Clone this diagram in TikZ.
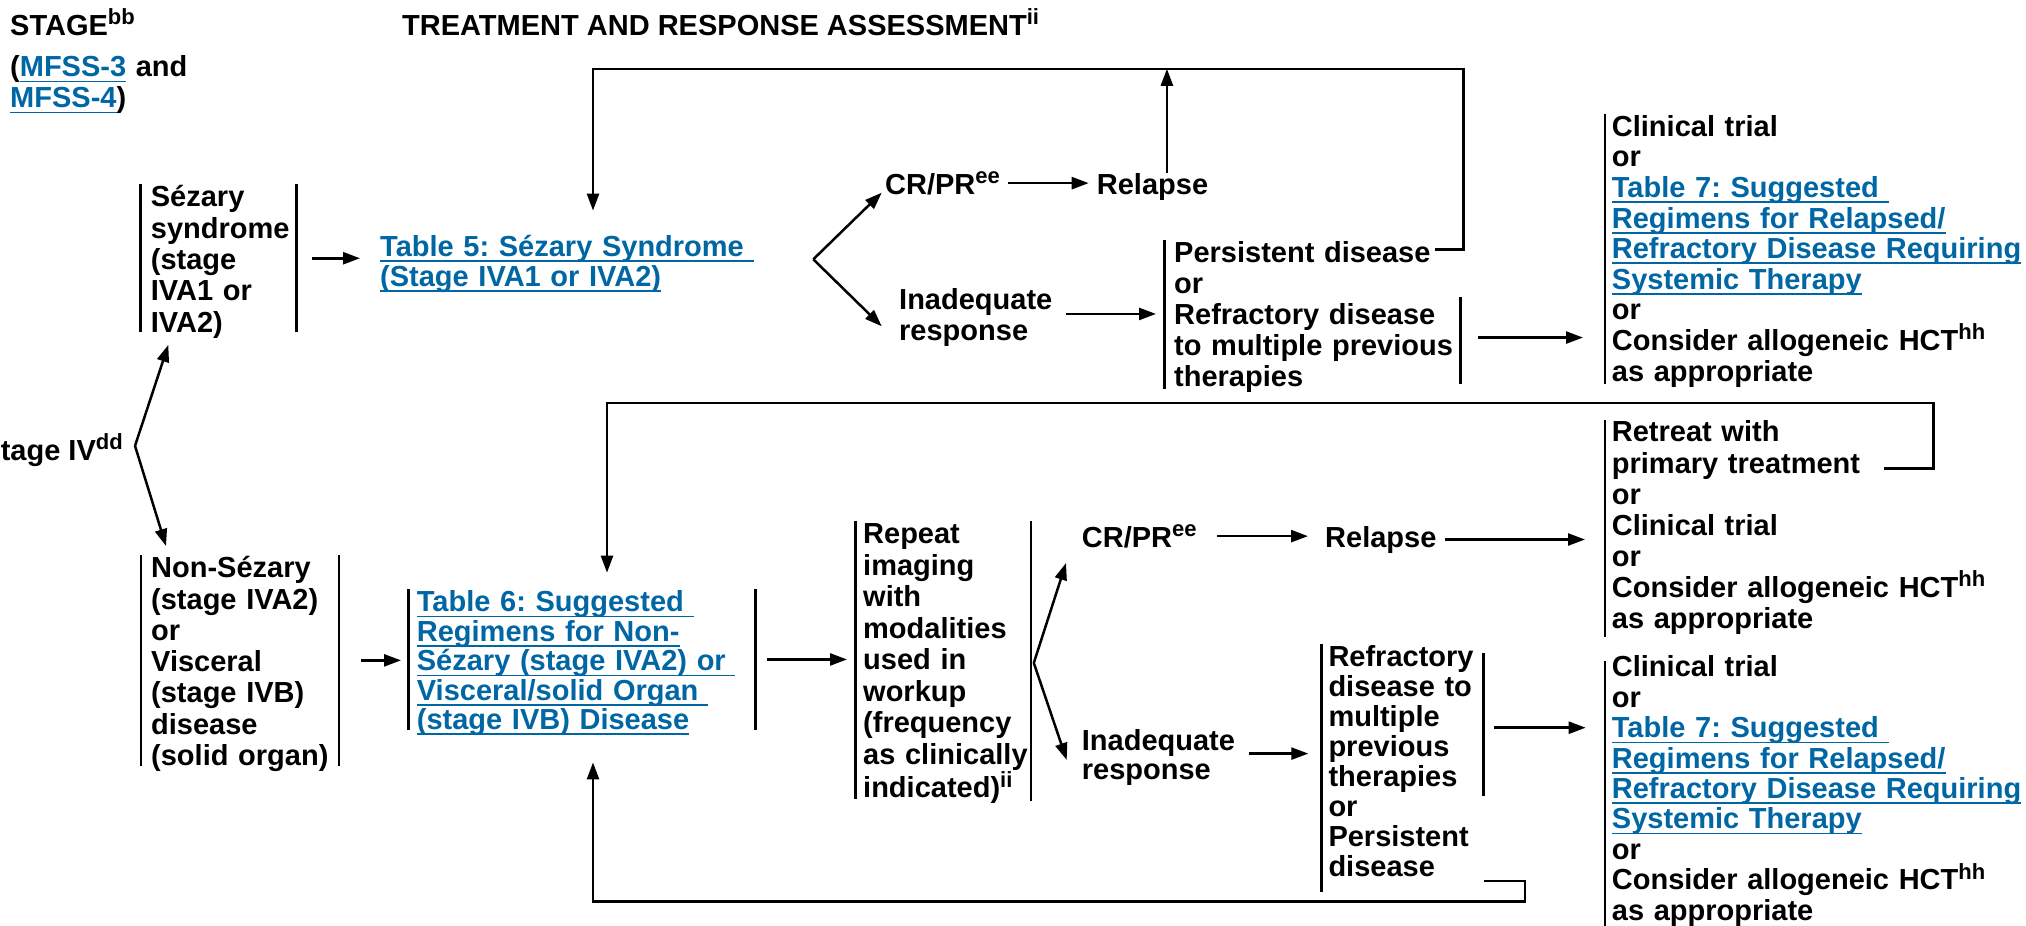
\documentclass[tikz,border=0pt]{standalone}
\usepackage{fontspec}
\setmainfont{Liberation Sans}
\usetikzlibrary{arrows.meta,calc}
\definecolor{linkblue}{RGB}{0,102,164}
\frenchspacing
\newcommand\sups[1]{\raisebox{10.5pt}{\fontsize{22}{22}\selectfont #1}}
\newcommand\mylink[1]{\leavevmode\setbox0=\hbox{#1}\rlap{\color{linkblue}\rule[-5.5pt]{\wd0}{1.7pt}}{\color{linkblue}\box0}}
\newcommand\topstrut{\rule{0pt}{22.5pt}}
\newcommand\lastln{\par\kern-\prevdepth}
\newcommand\lsp[1]{\fontsize{29}{#1}\selectfont}
\begin{document}
\frenchspacing
\begin{tikzpicture}[x=1pt,y=-1pt,
  every node/.style={inner sep=0pt, font=\bfseries\frenchspacing\lsp{31}},
  txt/.style={anchor=north west, align=left},
  bar/.style={line width=2.5pt},
  arr/.style={line width=2.5pt, -{Triangle[length=17pt,width=12pt]}}]
\useasboundingbox (0,0) rectangle (2026,926);

% header
\node[anchor=base west] (stage) at (10,35) {STAGE\sups{bb}};
\node[txt, text width=200pt] (mfss) at (10,54) {\topstrut(\mylink{MFSS-3} and\\\mylink{MFSS-4})\lastln};
\node[anchor=base west] (treat) at (402,35) {TREATMENT AND RESPONSE ASSESSMENT\sups{ii}};

% upper branch
\node[txt, text width=145.3pt, font=\bfseries\lsp{31.3}] (sez) at (150.7,184.2) {\topstrut Sézary\\syndrome\\(stage\\IVA1 or\\IVA2)\lastln};
\node[txt, text width=380pt, font=\bfseries\lsp{30}] (t5) at (380,233.5) {\topstrut\mylink{Table 5: Sézary Syndrome }\\\mylink{(Stage IVA1 or IVA2)}\lastln};
\node[anchor=base west] (crpr1) at (885,194) {CR/PR\sups{ee}};
\node[anchor=base west] (rel1) at (1096.7,194) {Relapse};
\node[txt, text width=153pt, font=\bfseries\lsp{31.4}] (inad1) at (899,286.8) {\topstrut Inadequate\\response\lastln};
\node[txt, text width=286pt] (pers1) at (1174,240.2) {\topstrut Persistent disease\\or\\Refractory disease\\to multiple previous\\therapies\lastln};
\node[txt, text width=430pt, font=\bfseries\lsp{30.6}] (clin1) at (1611.7,113.5) {\topstrut Clinical trial\\or\\\mylink{Table 7: Suggested }\\\mylink{Regimens for Relapsed/}\\\mylink{Refractory Disease Requiring}\\\mylink{Systemic Therapy}\\or\\Consider allogeneic HCT\sups{hh}\\as appropriate\lastln};

% lower branch
\node[anchor=base east] (st4) at (123,460) {Stage IV\sups{dd}};
\node[txt, text width=187.5pt, font=\bfseries\lsp{31.3}] (nons) at (151,555) {\topstrut Non-Sézary\\(stage IVA2)\\or\\Visceral\\(stage IVB)\\disease\\(solid organ)\lastln};
\node[txt, text width=338.3pt, font=\bfseries\lsp{29.4}] (t6) at (416.7,589.2) {\topstrut\mylink{Table 6: Suggested }\\\mylink{Regimens for Non-}\\\mylink{Sézary (stage IVA2) or }\\\mylink{Visceral/solid Organ }\\\mylink{(stage IVB) Disease}\lastln};
\node[txt, text width=167.4pt, font=\bfseries\lsp{31.5}] (rep) at (863,521) {\topstrut Repeat\\imaging\\with\\modalities\\used in\\workup\\(frequency\\as clinically\\indicated)\sups{ii}\lastln};
\node[anchor=base west] (crpr2) at (1081.7,547) {CR/PR\sups{ee}};
\node[anchor=base west] (rel2) at (1325,547) {Relapse};
\node[txt, text width=153pt, font=\bfseries\lsp{29.3}] (inad2) at (1081.7,727.5) {\topstrut Inadequate\\response\lastln};
\node[txt, text width=154.7pt, font=\bfseries\lsp{30}] (refr) at (1328.3,644.2) {\topstrut Refractory\\disease to\\multiple\\previous\\therapies\\or\\Persistent\\disease\lastln};
\node[txt, text width=430pt, font=\bfseries\lsp{31.1}] (clin3) at (1611.7,419.2) {\topstrut Retreat with\\primary treatment\\or\\Clinical trial\\or\\Consider allogeneic HCT\sups{hh}\\as appropriate\lastln};
\node[txt, text width=430pt, font=\bfseries\lsp{30.4}] (clin4) at (1611.7,654.2) {\topstrut Clinical trial\\or\\\mylink{Table 7: Suggested }\\\mylink{Regimens for Relapsed/}\\\mylink{Refractory Disease Requiring}\\\mylink{Systemic Therapy}\\or\\Consider allogeneic HCT\sups{hh}\\as appropriate\lastln};

% bars
\draw[bar] ([xshift=-10pt]sez.north west) -- ([xshift=-10pt]sez.south west);
\draw[bar] (sez.north east) -- (sez.south east);
\draw[bar] ([xshift=-9.3pt]pers1.north west) -- ([shift={(-9.3,1.6)}]pers1.south west);
\draw[bar] ([shift={(0,57)}]pers1.north east) -- ([shift={(0,-3)}]pers1.south east);
\draw[bar] ([xshift=-6.7pt]clin1.north west) -- ([shift={(-6.7,2.5)}]clin1.south west);
\draw[bar] ([xshift=-10pt]nons.north west) -- ([xshift=-10pt]nons.south west);
\draw[bar] (nons.north east) -- (nons.south east);
\draw[bar] ([xshift=-8.4pt]t6.north west) -- ([xshift=-8.4pt]t6.south west);
\draw[bar] (t6.north east) -- (t6.south east);
\draw[bar] ([xshift=-7.7pt]rep.north west) -- ([shift={(-7.7,1)}]rep.south west);
\draw[bar] (rep.north east) -- ([shift={(0,3)}]rep.south east);
\draw[bar] ([xshift=-6.6pt]refr.north west) -- ([shift={(-6.6,15)}]refr.south west);
\draw[bar] ([shift={(0,9)}]refr.north east) -- ([shift={(0,151.5)}]refr.north east);
\draw[bar] ([shift={(-6.7,1)}]clin3.north west) -- ([shift={(-6.7,8)}]clin3.south west);
\draw[bar] ([shift={(-6.7,7)}]clin4.north west) -- ([shift={(-6.7,6)}]clin4.south west);

% upper connectors
\draw[arr, shorten <=16pt, shorten >=20pt] (sez.east) -- (sez.east -| t5.west);
\coordinate (fk1) at (813.3,259.3);
\draw[arr] (fk1) -- ([shift={(-3.3,-1.3)}]crpr1.base west);
\draw[arr] (fk1) -- ([shift={(-17.3,12.3)}]inad1.west);
\draw[arr, shorten <=8pt, shorten >=8pt] (crpr1.east) -- (crpr1.east -| rel1.west);
\draw[arr] ([xshift=14.4pt]rel1.north) -- ++(0,-104);
\draw[arr, shorten <=13.7pt, shorten >=18pt] (inad1.east) -- (inad1.east -| pers1.west);
\draw[arr] ([shift={(261,9.1)}]pers1.north west) -- ++(28.3,0) |- ([shift={(213,-164.5)}]t5.north west) -- ([shift={(213,-22.9)}]t5.north west);
\coordinate (pa) at ([shift={(17.3,23.9)}]pers1.east);
\draw[arr, shorten >=28.7pt] (pa) -- (pa -| clin1.west);

% lower connectors
\coordinate (fk2) at ([shift={(12,-4)}]st4.east);
\draw[arr] (fk2) -- ([shift={(17.6,12.6)}]sez.south west);
\draw[arr] (fk2) -- ([shift={(15,-9)}]nons.north west);
\draw[arr, shorten <=22pt, shorten >=15.7pt] (nons.east) -- (nons.east -| t6.west);
\draw[arr, shorten <=12pt, shorten >=16pt] (t6.east) -- (t6.east -| rep.west);
\coordinate (fk3) at ([shift={(3,3.5)}]rep.east);
\draw[arr] (fk3) -- ([shift={(-15.7,16)}]crpr2.base west);
\draw[arr] (fk3) -- ([shift={(-15,32.5)}]inad2.north west);
\draw[arr, shorten <=20.3pt, shorten >=17pt] (crpr2.east) -- (crpr2.east -| rel2.west);
\draw[arr, shorten <=8pt, shorten >=26.7pt] (rel2.east) -- (rel2.east -| clin3.west);
\draw[arr, shorten <=13.6pt, shorten >=20pt] (inad2.east) -- (inad2.east -| refr.west);
\coordinate (pb) at ([shift={(11,83.5)}]refr.north east);
\draw[arr, shorten >=26pt] (pb) -- (pb -| clin4.west);
\draw[arr] ([shift={(272.3,49.1)}]clin3.north west) -- ++(49.3,0) |- ([shift={(190.3,-186.2)}]t6.north west) -- ([shift={(190.3,-16.5)}]t6.north west);
\draw[arr] ([shift={(155.7,236.8)}]refr.north west) -- ++(41,0) |- ([shift={(176.3,171.7)}]t6.south west) -- ([shift={(176.3,32.7)}]t6.south west);
\end{tikzpicture}
\end{document}
